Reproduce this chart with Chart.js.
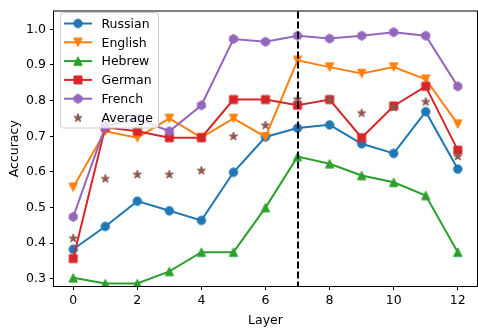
<!DOCTYPE html>
<html>
<head>
<meta charset="utf-8">
<script src="https://cdn.jsdelivr.net/npm/chart.js@4.4.0/dist/chart.umd.min.js"></script>
<style>
  html, body { margin: 0; padding: 0; background: #fff; overflow: hidden; }
  #wrap { width: 484px; height: 328px; }
</style>
</head>
<body>
<div id="wrap"><canvas id="myChart" width="484" height="328"></canvas></div>
<script>
// values
const layers = [0, 1, 2, 3, 4, 5, 6, 7, 8, 9, 10, 11, 12];
const russian = [0.383, 0.447, 0.518, 0.491, 0.464, 0.599, 0.698, 0.723, 0.732, 0.679, 0.652, 0.769, 0.608];
const english = [0.557, 0.714, 0.696, 0.750, 0.696, 0.750, 0.698, 0.913, 0.894, 0.876, 0.894, 0.860, 0.734];
const hebrew = [0.303, 0.287, 0.287, 0.321, 0.375, 0.375, 0.500, 0.643, 0.623, 0.590, 0.571, 0.534, 0.375];
const german = [0.357, 0.725, 0.714, 0.696, 0.696, 0.803, 0.803, 0.787, 0.803, 0.696, 0.785, 0.840, 0.661];
const french = [0.474, 0.727, 0.750, 0.714, 0.787, 0.973, 0.965, 0.982, 0.974, 0.982, 0.992, 0.982, 0.840];
const average = [0.415, 0.582, 0.594, 0.594, 0.605, 0.701, 0.732, 0.805, 0.805, 0.766, 0.782, 0.798, 0.645];

const xTicks = [0, 2, 4, 6, 8, 10, 12];
const yTicks = [0.3, 0.4, 0.5, 0.6, 0.7, 0.8, 0.9, 1.0];
const markedLayer = 7;

const FONT = 'DejaVu Sans';

// marker images (matplotlib-like)
function makeMarker(shape, color) {
  const c = document.createElement('canvas');
  c.width = 14; c.height = 14;
  const g = c.getContext('2d');
  const cx = 7, cy = 7, r = 4.2;
  g.beginPath();
  if (shape === 'o') {
    g.arc(cx, cy, r, 0, Math.PI * 2);
  } else if (shape === 'v') {
    g.moveTo(cx, cy + r); g.lineTo(cx - r, cy - r); g.lineTo(cx + r, cy - r);
  } else if (shape === '^') {
    g.moveTo(cx, cy - r); g.lineTo(cx - r, cy + r); g.lineTo(cx + r, cy + r);
  } else if (shape === 's') {
    g.rect(cx - 4, cy - 4, 8, 8);
  } else if (shape === 'h') {
    for (let i = 0; i < 6; i++) {
      const a = -Math.PI / 2 + i * Math.PI / 3;
      const px = cx + 4.6 * Math.cos(a), py = cy + 4.6 * Math.sin(a);
      i ? g.lineTo(px, py) : g.moveTo(px, py);
    }
  } else if (shape === '*') {
    for (let i = 0; i < 10; i++) {
      const a = -Math.PI / 2 + i * Math.PI / 5;
      const rr = i % 2 ? 4.4 * 0.382 : 4.4;
      const px = cx + rr * Math.cos(a), py = cy + 0.5 + rr * Math.sin(a);
      i ? g.lineTo(px, py) : g.moveTo(px, py);
    }
  }
  g.closePath();
  g.fillStyle = color;
  g.fill();
  g.lineWidth = 1;
  g.strokeStyle = color;
  g.stroke();
  return c;
}

const series = [
  { label: 'Russian', values: russian, color: '#1f77b4', marker: 'o', line: true },
  { label: 'English', values: english, color: '#ff7f0e', marker: 'v', line: true },
  { label: 'Hebrew', values: hebrew, color: '#2ca02c', marker: '^', line: true },
  { label: 'German', values: german, color: '#d62728', marker: 's', line: true },
  { label: 'French', values: french, color: '#9467bd', marker: 'h', line: true },
  { label: 'Average', values: average, color: '#8c564b', marker: '*', line: false }
];
series.forEach(s => { s.img = makeMarker(s.marker, s.color); });

const datasets = series.map((s, i) => ({
  label: s.label,
  data: layers.map((x, j) => ({ x: x, y: s.values[j] })),
  borderColor: s.color,
  backgroundColor: s.color,
  borderWidth: 2,
  showLine: s.line,
  pointStyle: s.img,
  pointRadius: 5,
  pointHoverRadius: 5,
  tension: 0,
  order: series.length - i
}));

const decor = {
  id: 'decor',
  afterDatasetsDraw(chart) {
    const ctx = chart.ctx;
    const a = chart.chartArea;
    const xs = chart.scales.x;
    ctx.save();
    // dashed vertical line
    const px = Math.round(xs.getPixelForValue(markedLayer));
    ctx.strokeStyle = '#000';
    ctx.lineWidth = 2;
    ctx.setLineDash([7, 3]);
    ctx.beginPath();
    ctx.moveTo(px, a.top);
    ctx.lineTo(px, a.bottom);
    ctx.stroke();
    ctx.setLineDash([]);
    // frame
    ctx.lineWidth = 1;
    ctx.strokeStyle = '#000';
    ctx.strokeRect(a.left - 0.5, a.top - 0.5, a.right - a.left + 1, a.bottom - a.top + 1);
    // legend
    const lx = 60.5, ly = 12.5, lw = 98, lh = 115.5, rad = 3;
    ctx.beginPath();
    ctx.moveTo(lx + rad, ly);
    ctx.lineTo(lx + lw - rad, ly);
    ctx.arcTo(lx + lw, ly, lx + lw, ly + rad, rad);
    ctx.lineTo(lx + lw, ly + lh - rad);
    ctx.arcTo(lx + lw, ly + lh, lx + lw - rad, ly + lh, rad);
    ctx.lineTo(lx + rad, ly + lh);
    ctx.arcTo(lx, ly + lh, lx, ly + lh - rad, rad);
    ctx.lineTo(lx, ly + rad);
    ctx.arcTo(lx, ly, lx + rad, ly, rad);
    ctx.closePath();
    ctx.fillStyle = 'rgba(255,255,255,0.8)';
    ctx.fill();
    ctx.strokeStyle = '#cccccc';
    ctx.stroke();
    ctx.font = '12.5px "' + FONT + '"';
    ctx.textBaseline = 'middle';
    ctx.textAlign = 'left';
    series.forEach((s, i) => {
      const y = 23.5 + i * 18.8;
      if (s.line) {
        ctx.strokeStyle = s.color;
        ctx.lineWidth = 2;
        ctx.beginPath();
        ctx.moveTo(64, y);
        ctx.lineTo(92, y);
        ctx.stroke();
      }
      ctx.drawImage(s.img, 78 - 7, y - 7);
      ctx.fillStyle = '#000';
      ctx.fillText(s.label, 101.5, y + 1);
    });
    ctx.restore();
  }
};

const ctx = document.getElementById('myChart');

const myChart = new Chart(ctx, {
  type: 'line',
  data: { datasets: datasets },
  options: {
    responsive: false,
    animation: false,
    events: [],
    layout: { padding: { top: 6, right: 1, left: 0, bottom: 0 } },
    plugins: {
      legend: { display: false },
      tooltip: { enabled: false }
    },
    scales: {
      x: {
        type: 'linear',
        min: -0.6,
        max: 12.6,
        afterBuildTicks: s => { s.ticks = xTicks.map(v => ({ value: v })); },
        afterFit: s => { s.height = 42; },
        grid: { display: true, drawOnChartArea: false, drawTicks: true, tickLength: 4, color: '#000' },
        border: { display: false },
        ticks: {
          color: '#000',
          padding: 3,
          maxRotation: 0,
          autoSkip: false,
          font: { family: FONT, size: 12.5 },
          callback: v => String(v)
        },
        title: {
          display: true,
          text: 'Layer',
          color: '#000',
          padding: { top: 1, bottom: 0 },
          font: { family: FONT, size: 12.5 }
        }
      },
      y: {
        type: 'linear',
        min: 0.28,
        max: 1.05,
        afterBuildTicks: s => { s.ticks = yTicks.map(v => ({ value: v })); },
        afterFit: s => { s.width = 54; },
        grid: { display: true, drawOnChartArea: false, drawTicks: true, tickLength: 4, color: '#000' },
        border: { display: false },
        ticks: {
          color: '#000',
          padding: 4,
          autoSkip: false,
          font: { family: FONT, size: 12.5 },
          callback: v => v.toFixed(1)
        },
        title: {
          display: true,
          text: 'Accuracy',
          color: '#000',
          padding: { top: 7, bottom: 0 },
          font: { family: FONT, size: 12.5 }
        }
      }
    }
  },
  plugins: [decor]
});
</script>
</body>
</html>
